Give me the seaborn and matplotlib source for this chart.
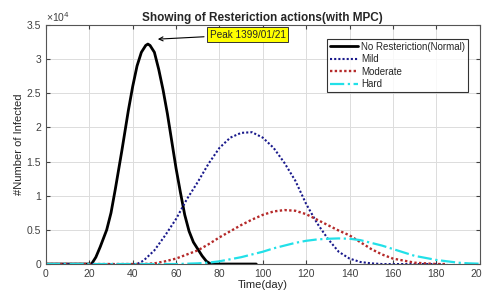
import numpy as np
import pandas as pd
import seaborn as sns
import matplotlib.pyplot as plt

# --- datos (numero de infectados, en unidades de 1e4) ---
dias_normal = [0, 5, 10, 15, 20, 21, 23, 25, 28, 30, 32, 35, 38, 40, 42, 44, 46, 47, 48,
               50, 52, 54, 56, 58, 60, 62, 64, 66, 68, 70, 72, 74, 76, 80, 85, 90, 97]
inf_normal = [0, 0, 0, 0, 0, 0, 0.1, 0.25, 0.5, 0.75, 1.1, 1.66, 2.25, 2.6, 2.9, 3.1, 3.2, 3.22, 3.2,
              3.1, 2.85, 2.55, 2.2, 1.8, 1.4, 1.05, 0.72, 0.48, 0.32, 0.22, 0.12, 0.04, 0, 0, 0, 0, 0]

dias_mild = [0, 10, 20, 30, 40, 42, 45, 50, 55, 60, 65, 70, 75, 80, 85, 90, 95, 100, 105,
             110, 115, 120, 125, 130, 135, 140, 145, 150, 155, 170, 185]
inf_mild = [0, 0, 0, 0, 0, 0, 0.05, 0.2, 0.42, 0.66, 0.95, 1.2, 1.47, 1.7, 1.85, 1.92, 1.93, 1.85, 1.7,
            1.48, 1.22, 0.88, 0.6, 0.37, 0.18, 0.08, 0.03, 0.01, 0, 0, 0]

dias_mod = [0, 10, 20, 30, 40, 45, 50, 55, 60, 65, 70, 75, 80, 85, 90, 95, 100, 105, 110, 115,
            120, 125, 130, 135, 140, 145, 150, 155, 160, 165, 170, 175, 180, 185]
inf_mod = [0, 0, 0, 0, 0, 0, 0.01, 0.04, 0.08, 0.14, 0.2, 0.29, 0.39, 0.48, 0.57, 0.65, 0.72, 0.77, 0.79, 0.78,
           0.73, 0.65, 0.57, 0.49, 0.42, 0.32, 0.22, 0.14, 0.08, 0.05, 0.02, 0.01, 0, 0]

dias_hard = [0, 10, 20, 30, 40, 50, 60, 65, 70, 75, 80, 85, 90, 95, 100, 105, 110, 115, 120, 125,
             130, 135, 140, 145, 150, 155, 160, 165, 170, 175, 180, 185, 190, 195, 200]
inf_hard = [0, 0, 0, 0, 0, 0, 0, 0.005, 0.01, 0.02, 0.04, 0.07, 0.1, 0.14, 0.18, 0.23, 0.27, 0.31, 0.34, 0.36,
            0.37, 0.375, 0.37, 0.35, 0.31, 0.27, 0.22, 0.17, 0.12, 0.09, 0.06, 0.04, 0.02, 0.01, 0.005]

series = [
    ("No Resteriction(Normal)", dias_normal, inf_normal, "black", "-", 2.0),
    ("Mild", dias_mild, inf_mild, "#1a1a8c", (0, (1, 1)), 1.5),
    ("Moderate", dias_mod, inf_mod, "#b52a2a", (0, (1, 1)), 1.7),
    ("Hard", dias_hard, inf_hard, "#22e0e8", "-.", 1.6),
]

sns.set_style("white")
plt.rcParams["font.family"] = ["Liberation Sans", "DejaVu Sans"]

fig = plt.figure(figsize=(4.82, 2.97), dpi=100)
ax = fig.add_axes([0.0954, 0.111, 0.8996, 0.805])

for nombre, x, y, color, ls, lw in series:
    df = pd.DataFrame({"dia": x, "inf": y})
    sns.lineplot(data=df, x="dia", y="inf", ax=ax, color=color, linestyle=ls,
                 linewidth=lw, label=nombre)

ax.set_xlim(0, 200)
ax.set_ylim(0, 3.5)
ax.set_xticks(np.arange(0, 201, 20))
ax.set_yticks(np.arange(0, 3.51, 0.5))
ax.set_yticklabels(["0", "0.5", "1", "1.5", "2", "2.5", "3", "3.5"])
ax.grid(True, color="#dcdcdc", linewidth=0.7)
ax.tick_params(direction="in", length=3, labelsize=7.5, colors="#404040",
               top=True, right=True, bottom=True, left=True)
for s in ax.spines.values():
    s.set_color("#555555")
    s.set_linewidth(0.8)

ax.set_xlabel("Time(day)", fontsize=8, color="#262626", labelpad=1)
ax.set_ylabel("#Number of Infected", fontsize=8, color="#262626", labelpad=2)
ax.set_title("Showing of Resteriction actions(with MPC)", fontsize=8.5,
             fontweight="bold", pad=3)
ax.text(0.0, 1.005, "×10$^4$", transform=ax.transAxes, fontsize=7.5,
        color="#404040", ha="left", va="bottom")

ax.annotate("Peak 1399/01/21", xy=(50.3, 3.29), xytext=(75.5, 3.36),
            fontsize=7.2, ha="left", va="center",
            bbox=dict(boxstyle="square,pad=0.25", fc="#ffff00", ec="#333333", lw=0.7),
            arrowprops=dict(arrowstyle="->", color="black", lw=0.8))

leg = ax.legend(loc="upper right", bbox_to_anchor=(0.985, 0.962), fontsize=7,
                frameon=True, fancybox=False, edgecolor="black",
                handlelength=2.9, handletextpad=0.3, borderpad=0.3, labelspacing=0.25)
leg.get_frame().set_linewidth(0.8)

fig.savefig("out.png", dpi=100)
